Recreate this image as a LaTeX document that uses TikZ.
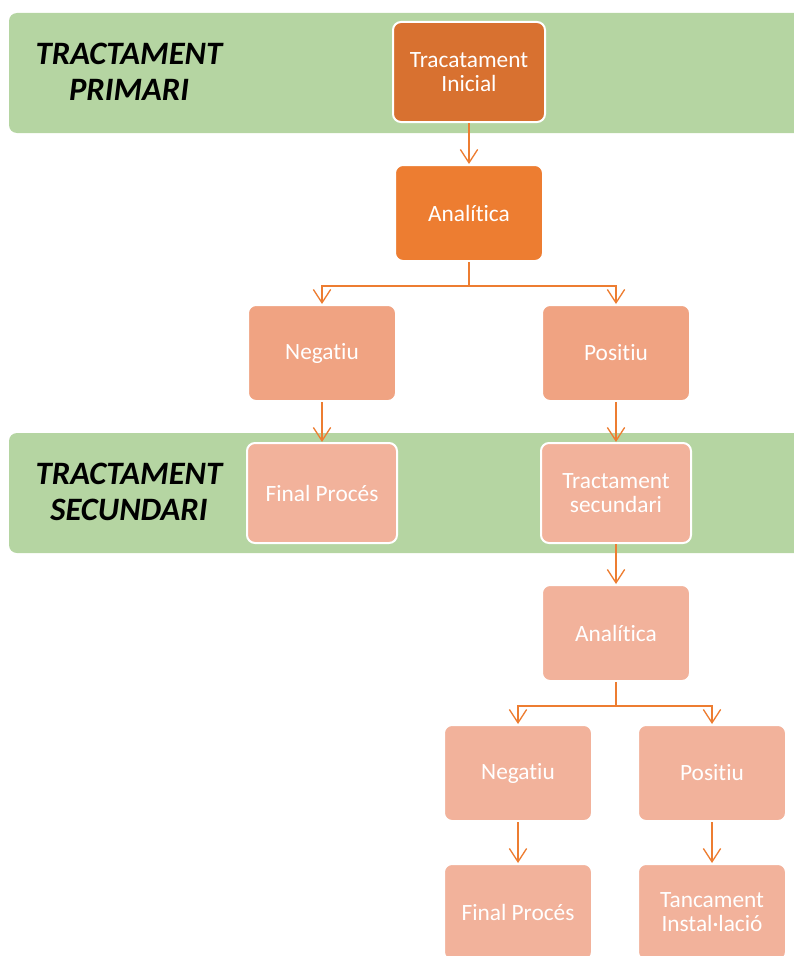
\documentclass[tikz,border=0pt]{standalone}
\usepackage{fontspec}
\setmainfont{Carlito}[Ligatures={NoCommon,NoContextual}]
\usetikzlibrary{arrows.meta}
\definecolor{bandgreen}{RGB}{181,213,162}
\definecolor{darkorange}{RGB}{216,113,48}
\definecolor{midorange}{RGB}{237,125,49}
\definecolor{lightorange}{RGB}{240,163,130}
\definecolor{paleorange}{RGB}{242,178,155}
\definecolor{lineorange}{RGB}{237,125,49}

\begin{document}
\begin{tikzpicture}[x=0.75pt,y=0.75pt,yscale=-1,xscale=1,
  stepbox/.style={draw=white,line width=1.5pt,rounded corners=6pt,text=white,align=center,
    minimum width=111pt,minimum height=72pt,inner sep=2pt,font=\fontsize{17.5}{18.5}\selectfont},
  bandbox/.style={stepbox,minimum width=112.5pt,minimum height=75pt},
  band/.style={fill=bandgreen,rounded corners=6pt},
  bandtitle/.style={align=center,font=\fontsize{24.5}{27}\selectfont\bfseries\itshape},
  conn/.style={draw=lineorange,line width=1pt,-{Straight Barb[length=10pt,width=13pt]}}]

\useasboundingbox (0,0) rectangle (793,956);

\fill [band] (9,13) rectangle (820,133);
\fill [band] (9,433) rectangle (820,553);

\node [bandtitle] (ttprim) at (129,72) {TRACTAMENT\\PRIMARI};
\node [bandtitle] (ttsec) at (129,492) {TRACTAMENT\\SECUNDARI};

\node [bandbox,fill=darkorange,minimum width=114pt] (ini) at (469,72) {Tracatament\\Inicial};
\node [stepbox,fill=midorange] (ana1) at (469,213) {Analítica};
\node [stepbox,fill=lightorange] (neg1) at (322,353) {Negatiu};
\node [stepbox,fill=lightorange] (pos1) at (616,353) {Positiu};
\node [bandbox,fill=paleorange] (fin1) at (322,493) {Final Procés};
\node [bandbox,fill=paleorange] (sec) at (616,493) {Tractament\\secundari};
\node [stepbox,fill=paleorange] (ana2) at (616,633) {Analítica};
\node [stepbox,fill=paleorange] (neg2) at (518,773) {Negatiu};
\node [stepbox,fill=paleorange] (pos2) at (712,773) {Positiu};
\node [stepbox,fill=paleorange] (fin2) at (518,912) {Final Procés};
\node [stepbox,fill=paleorange] (tanc) at (712,912) {Tancament\\Instal·lació};

\draw [conn] (ini.south) -- (ana1.north);
\draw [conn] (ana1.south) -- ++(0,24) -| (neg1.north);
\draw [conn] (ana1.south) -- ++(0,24) -| (pos1.north);
\draw [conn] (neg1.south) -- (fin1.north);
\draw [conn] (pos1.south) -- (sec.north);
\draw [conn] (sec.south) -- (ana2.north);
\draw [conn] (ana2.south) -- ++(0,24) -| (neg2.north);
\draw [conn] (ana2.south) -- ++(0,24) -| (pos2.north);
\draw [conn] (neg2.south) -- (fin2.north);
\draw [conn] (pos2.south) -- (tanc.north);

\end{tikzpicture}
\end{document}
